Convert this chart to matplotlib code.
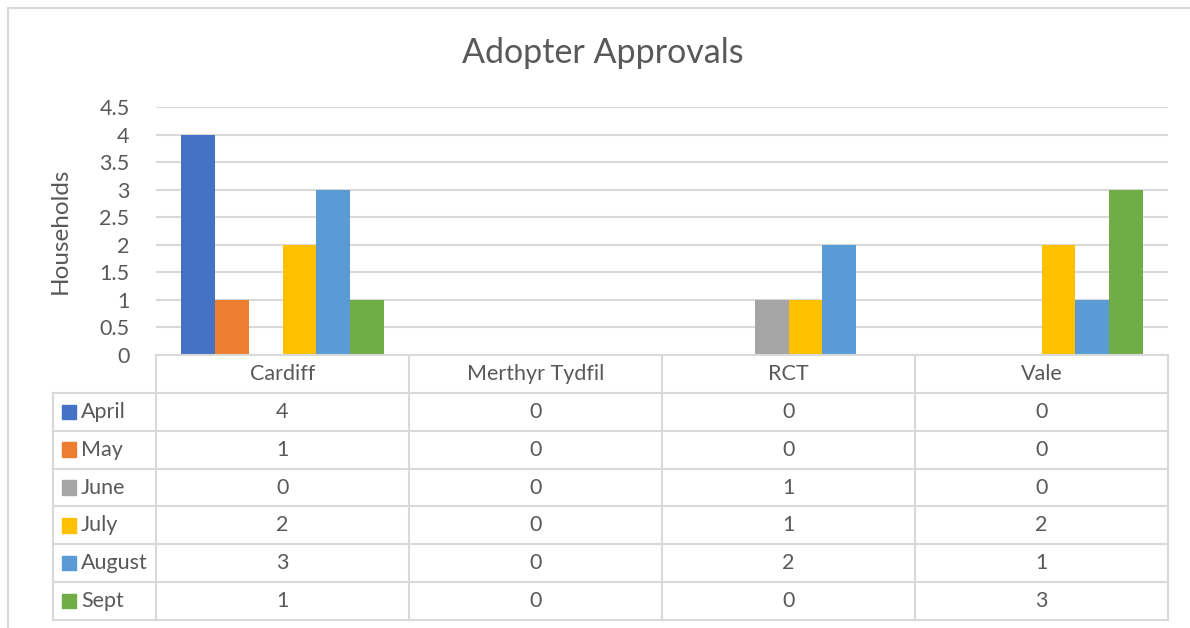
import matplotlib
matplotlib.use("Agg")
import matplotlib.pyplot as plt
import numpy as np
from matplotlib.patches import Rectangle

plt.rcParams['font.family'] = ['Lato', 'DejaVu Sans']

# data
areas = ['Cardiff', 'Merthyr Tydfil', 'RCT', 'Vale']
months = ['April', 'May', 'June', 'July', 'August', 'Sept']
april = [4, 0, 0, 0]
may = [1, 0, 0, 0]
june = [0, 0, 1, 0]
july = [2, 0, 1, 2]
august = [3, 0, 2, 1]
sept = [1, 0, 0, 3]
series = [april, may, june, july, august, sept]
colors = ['#4472C4', '#ED7D31', '#A5A5A5', '#FFC000', '#5B9BD5', '#70AD47']
yticks = [0, 0.5, 1, 1.5, 2, 2.5, 3, 3.5, 4, 4.5]

txt = '#595959'
grid = '#d9d9d9'
W, H = 1190, 628
fs = 15.5

fig = plt.figure(figsize=(W / 100, H / 100), dpi=100)

# chart area border
fig.add_artist(Rectangle((8 / W, -0.1), 1.2, (H - 8) / H + 0.1, transform=fig.transFigure,
                         fill=False, edgecolor=grid, linewidth=1.5))

def px_rect(l, t, r, b):
    return [l / W, 1 - b / H, (r - l) / W, (b - t) / H]

# bar area
ax = fig.add_axes(px_rect(156, 107, 1168, 355))
x = np.arange(len(areas))
bw = 0.8 / len(months)
for i, (vals, c) in enumerate(zip(series, colors)):
    ax.bar(x + (i - 2.5) * bw, vals, width=bw, color=c, label=months[i], zorder=3)
ax.set_xlim(-0.5, len(areas) - 0.5)
ax.set_ylim(0, 4.5)
ax.set_yticks(yticks)
ax.set_yticklabels(['{0:g}'.format(v) for v in yticks])
ax.set_xticks([])
ax.tick_params(axis='y', length=0, pad=19, labelsize=fs, labelcolor=txt)
ax.grid(axis='y', color=grid, linewidth=1.5, zorder=0)
for s in ax.spines.values():
    s.set_visible(False)

fig.text(60 / W, 1 - 231 / H, 'Households', rotation=90, ha='center', va='center',
         fontsize=17.5, color=txt)
fig.text(603 / W, 1 - 53 / H, 'Adopter Approvals', ha='center', va='center',
         fontsize=24.5, color=txt)

# data table below the bars
left_w = 103 / 253
tab = fig.add_axes(px_rect(53, 355, 1168, 620))
tab.set_xlim(-0.5 - left_w, len(areas) - 0.5)
tab.set_ylim(len(months) + 1, 0)
tab.axis('off')
lw = 1.5
# vertical lines
for k in range(len(areas) + 1):
    tab.plot([k - 0.5, k - 0.5], [0, len(months) + 1], color=grid, lw=lw, clip_on=False)
tab.plot([-0.5 - left_w] * 2, [1, len(months) + 1], color=grid, lw=lw, clip_on=False)
# horizontal lines
tab.plot([-0.5, len(areas) - 0.5], [0, 0], color=grid, lw=lw, clip_on=False)
for r in range(1, len(months) + 2):
    tab.plot([-0.5 - left_w, len(areas) - 0.5], [r, r], color=grid, lw=lw, clip_on=False)
# header
for j, a in enumerate(areas):
    tab.text(j, 0.5, a, ha='center', va='center', fontsize=fs, color=txt)
# rows
for i, (m, vals, c) in enumerate(zip(months, series, colors)):
    yc = i + 1.5
    tab.add_patch(Rectangle((-0.5 - left_w + 9 / 253, yc - 0.19), 14 / 253, 0.38,
                            color=c, clip_on=False))
    tab.text(-0.5 - left_w + 28 / 253, yc, m, ha='left', va='center', fontsize=fs, color=txt)
    for j, v in enumerate(vals):
        tab.text(j, yc, str(v), ha='center', va='center', fontsize=fs, color=txt)

fig.savefig('out.png', dpi=100)
